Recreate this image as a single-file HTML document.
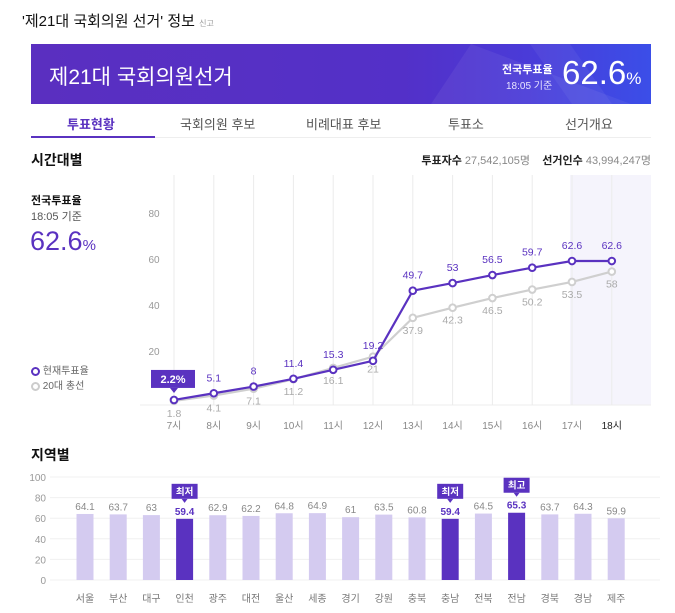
<!DOCTYPE html>
<html><head><meta charset="utf-8">
<style>
body{margin:0;background:#fff;font-family:"Liberation Sans","Noto Sans CJK KR",sans-serif;}
#root{position:relative;width:675px;height:613px;overflow:hidden;}
.abs{position:absolute;white-space:nowrap;}
</style></head>
<body><div id="root">
<div class="abs" style="left:22px;top:10px;font-size:15px;color:#111;">'제21대 국회의원 선거' 정보 <span style="font-size:8px;color:#999;">신고</span></div>
<div class="abs" style="left:31px;top:44px;width:620px;height:60px;overflow:hidden;background:linear-gradient(90deg,#5a2fc0 0%,#5330c8 60%,#4a3bd8 80%,#3b4ee8 100%);">
  <div class="abs" style="left:400px;top:0;width:0;height:0;border-bottom:60px solid rgba(255,255,255,0.06);border-left:40px solid transparent;border-right:160px solid transparent;"></div>
  <div class="abs" style="left:520px;top:0;width:40px;height:60px;background:rgba(255,255,255,0.05);transform:skewX(35deg);"></div>
  <div class="abs" style="left:18px;top:17px;font-size:21px;color:#fff;">제21대 국회의원선거</div>
  <div class="abs" style="left:471px;top:17px;font-size:11px;color:#fff;font-weight:bold;">전국투표율</div>
  <div class="abs" style="left:475px;top:33px;font-size:10px;color:#e8e4ff;">18:05 기준</div>
  <div class="abs" style="left:531px;top:10px;font-size:33px;color:#fff;">62.6<span style="font-size:17px">%</span></div>
</div>
<div class="abs" style="left:31px;top:137px;width:620px;height:1px;background:#eee;"></div>
<div class="abs" style="left:31px;top:136px;width:124px;height:2px;background:#5a32c0;"></div>
<div class="abs" style="left:67px;top:114px;font-size:13px;color:#5a32c0;font-weight:bold;">투표현황</div>
<div class="abs" style="left:180px;top:114px;font-size:13px;color:#555;">국회의원 후보</div>
<div class="abs" style="left:306px;top:114px;font-size:13px;color:#555;">비례대표 후보</div>
<div class="abs" style="left:448px;top:114px;font-size:13px;color:#555;">투표소</div>
<div class="abs" style="left:565px;top:114px;font-size:13px;color:#555;">선거개요</div>
<div class="abs" style="left:31px;top:150px;font-size:14px;font-weight:bold;color:#111;">시간대별</div>
<div class="abs" style="right:24px;top:152px;font-size:11px;color:#888;"><b style="color:#222">투표자수</b> 27,542,105명 &nbsp;&nbsp;&nbsp;<b style="color:#222">선거인수</b> 43,994,247명</div>
<div class="abs" style="left:31px;top:192px;font-size:11px;font-weight:bold;color:#111;">전국투표율</div>
<div class="abs" style="left:31px;top:208px;font-size:11px;color:#555;">18:05 기준</div>
<div class="abs" style="left:30px;top:226px;font-size:27px;color:#5a32c0;">62.6<span style="font-size:15px">%</span></div>
<div class="abs" style="left:31px;top:362px;font-size:10px;color:#666;"><span style="display:inline-block;width:5px;height:5px;border:2px solid #5a32c0;border-radius:50%;vertical-align:middle;"></span> 현재투표율</div>
<div class="abs" style="left:31px;top:377px;font-size:10px;color:#666;"><span style="display:inline-block;width:5px;height:5px;border:2px solid #ccc;border-radius:50%;vertical-align:middle;"></span> 20대 총선</div>
<svg id="line" class="abs" style="left:0;top:0" width="675" height="440"></svg>
<div class="abs" style="left:31px;top:445px;font-size:14px;font-weight:bold;color:#111;">지역별</div>
<svg id="bar" class="abs" style="left:0;top:440px" width="675" height="173"></svg>
</div>
<script>
const hours=["7시","8시","9시","10시","11시","12시","13시","14시","15시","16시","17시","18시"];
const current=[2.2,5.1,8,11.4,15.3,19.2,49.7,53,56.5,59.7,62.6,62.6];
const prev=[1.8,4.1,7.1,11.2,16.1,21,37.9,42.3,46.5,50.2,53.5,58];
const yTicks=[20,40,60,80];
const regions=["서울","부산","대구","인천","광주","대전","울산","세종","경기","강원","충북","충남","전북","전남","경북","경남","제주"];
const regionVals=[64.1,63.7,63,59.4,62.9,62.2,64.8,64.9,61,63.5,60.8,59.4,64.5,65.3,63.7,64.3,59.9];
const barTicks=[0,20,40,60,80,100];
const NS="http://www.w3.org/2000/svg";
function mk(p,t,a,txt){const e=document.createElementNS(NS,t);for(const k in a)e.setAttribute(k,a[k]);if(txt!=null)e.textContent=txt;p.appendChild(e);return e;}
const L=document.getElementById('line');
const lx=i=>174+i*39.8, ly=v=>405-v*2.3;
let r=mk(L,'rect',{x:lx(10)-2,y:175,width:651-lx(10)+2,height:230,fill:'#f5f4fc'});

mk(L,'line',{x1:140,x2:651,y1:405,y2:405,stroke:'#eee'});
hours.forEach((h,i)=>{
  let g=mk(L,'line',{x1:lx(i),x2:lx(i),y1:175,y2:405,stroke:'#ebebeb'});
  
  let t=mk(L,'text',{x:lx(i),y:429,'text-anchor':'middle','font-size':10,fill:i==11?'#222':'#888'},h);
  
});
yTicks.forEach(v=>{let t=mk(L,'text',{x:154,y:ly(v)-4,'text-anchor':'middle','font-size':10,fill:'#999'},v);
  });
function series(vals,color,name,below){
  let p=mk(L,'polyline',{points:vals.map((v,i)=>lx(i)+','+ly(v)).join(' '),fill:'none',stroke:color,'stroke-width':2.2});
  
  vals.forEach((v,i)=>{
    let c=mk(L,'circle',{cx:lx(i),cy:ly(v),r:3.3,fill:'#fff',stroke:color,'stroke-width':2});
    
    if(!below&&i==0)return;
    let t=mk(L,'text',{x:lx(i),y:below?ly(v)+16:ly(v)-12,'text-anchor':'middle','font-size':10.5,fill:below?'#aaa':'#5a32c0'},v);
    
  });
}
series(prev,'#cfcfcf','prev',true);
series(current,'#5a32c0','current',false);
let tb=mk(L,'rect',{x:lx(0)-23,y:ly(current[0])-30,width:44,height:18,fill:'#5a32c0'});

mk(L,'path',{d:`M${lx(0)-4} ${ly(current[0])-12}l4 5l4 -5z`,fill:'#5a32c0'});
let tt=mk(L,'text',{x:lx(0)-1,y:ly(current[0])-17,'text-anchor':'middle','font-size':11,'font-weight':'bold',fill:'#fff'},current[0]+'%');

const B=document.getElementById('bar');
const by=v=>140-v*1.03, bx=i=>85+i*33.2;
barTicks.forEach(v=>{mk(B,'line',{x1:50,x2:660,y1:by(v),y2:by(v),stroke:'#f0f0f0'});
  let t=mk(B,'text',{x:46,y:by(v)+4,'text-anchor':'end','font-size':10,fill:'#999'},v);
  });
const mn=Math.min(...regionVals),mx=Math.max(...regionVals);
regions.forEach((n,i)=>{
  const v=regionVals[i],hi=(v==mn||v==mx);
  let b=mk(B,'rect',{x:bx(i)-8.5,y:by(v),width:17,height:v*1.03,fill:hi?'#5a32c0':'#d4cbf0'});
  
  let t=mk(B,'text',{x:bx(i),y:by(v)-4,'text-anchor':'middle','font-size':10,fill:hi?'#5a32c0':'#888','font-weight':hi?'bold':'normal'},v);
  
  let l=mk(B,'text',{x:bx(i),y:162,'text-anchor':'middle','font-size':10,fill:'#777'},n);
  
  if(hi){const lab=v==mx?'최고':'최저',top=by(v)-35;
    let f=mk(B,'rect',{x:bx(i)-13,y:top,width:26,height:15,fill:'#5a32c0'});
    
    mk(B,'path',{d:`M${bx(i)-3} ${top+15}l3 4l3 -4z`,fill:'#5a32c0'});
    let ft=mk(B,'text',{x:bx(i),y:top+11,'text-anchor':'middle','font-size':9.5,'font-weight':'bold',fill:'#fff'},lab);
    }
});
</script>
</body></html>
